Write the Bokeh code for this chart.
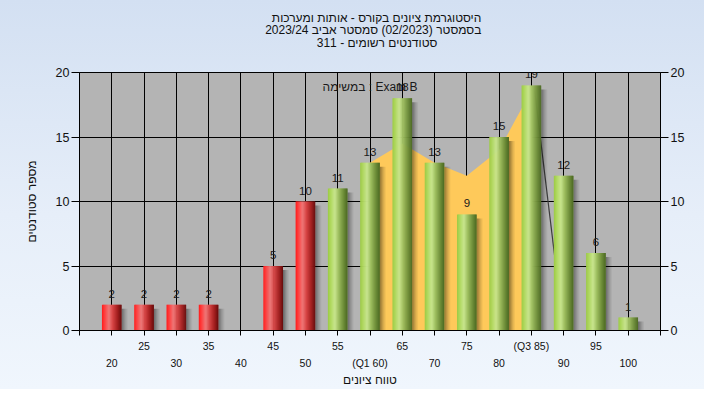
from bokeh.plotting import figure
from bokeh.layouts import column
from bokeh.models import ColumnDataSource, LinearAxis, FixedTicker, Label, LabelSet, Range1d
from bokeh.core.properties import value
from bokeh.embed import file_html
from bokeh.resources import INLINE

# ---------------- data ----------------
grades = [20, 25, 30, 35, 40, 45, 50, 55, 60, 65, 70, 75, 80, 85, 90, 95, 100]
counts = [2, 2, 2, 2, 0, 5, 10, 11, 13, 18, 13, 9, 15, 19, 12, 6, 1]
pass_grade = 55
band_x = [60, 65, 70, 75, 80, 85]
band_y = [13, 14.5, 13, 12, 14, 18.6]
drop_x = [85.5, 90]
drop_y = [18.6, 0]
y_ticks = [0, 5, 10, 15, 20]
upper_ticks = [25, 35, 45, 55, 65, 75, 85, 95]
lower_ticks = [20, 30, 40, 50, 60, 70, 80, 90, 100]
upper_labels = ["25", "35", "45", "55", "65", "75", "(Q3 85)", "95"]
lower_labels = ["20", "30", "40", "50", "(Q1 60)", "70", "80", "90", "100"]
title_lines = [
    "היסטוגרמת ציונים בקורס - אותות ומערכות",
    "בסמסטר  (02/2023)  סמסטר אביב 2023/24",
    "סטודנטים רשומים - 311",
]
exam_text = "במשימה : Exam B"
x_title = "טווח ציונים"
y_title = "מספר סטודנטים"

FONT = "Liberation Sans"
W, H = 704, 389
TITLE_H = 60
X0, X1 = 15, 105
Y0, Y1 = 0, 20
FL, FT, FR, FB = 79, 72, 660, 330          # frame box (pixels)
px = (X1 - X0) / (FR - FL)
py = (Y1 - Y0) / (FB - FT)

# ---------------- title strip ----------------
t = figure(width=W, height=TITLE_H, output_backend="svg", toolbar_location=None,
           x_range=Range1d(0, W), y_range=Range1d(0, TITLE_H),
           x_axis_type=None, y_axis_type=None, min_border=0)
t.background_fill_alpha = 0
t.border_fill_alpha = 0
t.outline_line_color = None
t.grid.visible = False
for k, line in enumerate(title_lines):
    t.add_layout(Label(x=360, y=TITLE_H - 17 - 12.5 * k, text=line, text_align="center",
                       text_baseline="middle", text_font=FONT, text_font_size="12px",
                       text_color="#111111"))

# ---------------- main chart ----------------
p = figure(width=W, height=H - TITLE_H, output_backend="svg", toolbar_location=None,
           x_range=Range1d(X0, X1), y_range=Range1d(Y0, Y1),
           min_border_left=FL, min_border_right=W - FR,
           min_border_top=FT - TITLE_H, min_border_bottom=H - FB)
p.background_fill_color = "#b4b4b4"
p.border_fill_alpha = 0
p.outline_line_color = "black"
p.outline_line_width = 1

p.xgrid.ticker = FixedTicker(ticks=grades)
p.ygrid.ticker = FixedTicker(ticks=y_ticks)
for g in (p.xgrid, p.ygrid):
    g.grid_line_color = "black"
    g.grid_line_width = 1
    g.grid_line_alpha = 1

# IQR band + line
p.varea(x=band_x, y1=[0] * len(band_x), y2=band_y, fill_color="#fec95a", fill_alpha=1)
p.line(x=drop_x, y=drop_y, line_color="#3c3c3c", line_width=1.2)

# bars (cylinder gradient + shadow)
def hex2rgb(h):
    h = h.lstrip("#")
    return tuple(int(h[i:i + 2], 16) for i in (0, 2, 4))

def interp(stops, tt):
    for (t0, c0), (t1, c1) in zip(stops[:-1], stops[1:]):
        if t0 <= tt <= t1:
            a, b = hex2rgb(c0), hex2rgb(c1)
            f = (tt - t0) / (t1 - t0) if t1 > t0 else 0
            return "#%02x%02x%02x" % tuple(int(round(a[k] + (b[k] - a[k]) * f)) for k in range(3))
    return stops[-1][1]

red_stops = [(0, "#ff1c1c"), (0.12, "#ff3a3a"), (0.35, "#ee7878"), (0.55, "#d64444"),
             (0.8, "#a21e1e"), (1, "#650b0b")]
green_stops = [(0, "#9ccb44"), (0.12, "#acd65a"), (0.35, "#c8e58e"), (0.55, "#9dbd5e"),
               (0.8, "#6c8c38"), (1, "#4b6822")]

bar_w = 3.05
n_strips = 20
sl, sr, st, sc = [], [], [], []
hl, hr, ht, ha = [], [], [], []
shadow_alpha = [0.40, 0.32, 0.24, 0.16, 0.10, 0.05]
for g, c in zip(grades, counts):
    if c <= 0:
        continue
    stops = red_stops if g < pass_grade else green_stops
    left = g - bar_w / 2
    sw = bar_w / n_strips
    for j, a in enumerate(shadow_alpha):
        hl.append(g + bar_w / 2 + j * px)
        hr.append(g + bar_w / 2 + (j + 1) * px)
        ht.append(max(c - 4 * py, 0))
        ha.append(a)
    for i in range(n_strips):
        l = left + i * sw
        r = l + sw * (1.6 if i < n_strips - 1 else 1.0)
        sl.append(l)
        sr.append(r)
        st.append(c)
        sc.append(interp(stops, (i + 0.5) / n_strips))

p.quad(left=hl, right=hr, bottom=0, top=ht, fill_color="black", fill_alpha=ha, line_color=None)
p.quad(left=sl, right=sr, bottom=0, top=st, fill_color=sc, line_color=None)

lab_src = ColumnDataSource(dict(
    x=[g for g, c in zip(grades, counts) if c > 0],
    y=[c for c in counts if c > 0],
    t=[str(c) for c in counts if c > 0],
))
p.add_layout(LabelSet(x="x", y="y", text="t", source=lab_src, text_align="center",
                      text_baseline="bottom", y_offset=7, text_font=value(FONT),
                      text_font_size=value("11.5px"), text_color=value("#1a1a1a")))

p.add_layout(Label(x=(X0 + X1) / 2, y=Y1 - 14 * py, text=exam_text, text_align="center",
                   text_baseline="middle", text_font=FONT, text_font_size="12px",
                   text_color="#1a1a1a"))

# axes
edge_ticks = [grades[0] - 5] + grades + [grades[-1] + 5]
xa = p.xaxis[0]
xa.ticker = FixedTicker(ticks=edge_ticks)
ov = {tk: "" for tk in edge_ticks}
ov.update({tk: s for tk, s in zip(upper_ticks, upper_labels)})
xa.major_label_overrides = ov
xa.major_tick_out = 5
xa.major_tick_in = 0
xa.minor_tick_out = 0
xa.major_label_standoff = 4
xa.major_label_text_font = FONT
xa.major_label_text_font_size = "10.5px"
xa.major_label_text_color = "#111111"
xa.axis_line_color = "black"
xa.major_tick_line_color = "black"

xb = LinearAxis(ticker=FixedTicker(ticks=lower_ticks),
                major_label_overrides={tk: s for tk, s in zip(lower_ticks, lower_labels)})
xb.axis_line_color = None
xb.major_tick_line_color = None
xb.major_tick_out = 0
xb.major_tick_in = 0
xb.minor_tick_out = 0
xb.minor_tick_in = 0
xb.major_label_standoff = 2
xb.major_label_text_font = FONT
xb.major_label_text_font_size = "10.5px"
xb.major_label_text_color = "#111111"
xb.axis_label = x_title
xb.axis_label_text_font = FONT
xb.axis_label_text_font_size = "12px"
xb.axis_label_text_font_style = "normal"
xb.axis_label_text_color = "#111111"
xb.axis_label_standoff = 1
p.add_layout(xb, "below")

ya = p.yaxis[0]
yr = LinearAxis()
p.add_layout(yr, "right")
for ax in (ya, yr):
    ax.ticker = FixedTicker(ticks=y_ticks)
    ax.major_tick_out = 8
    ax.major_tick_in = 0
    ax.minor_tick_out = 0
    ax.minor_tick_in = 0
    ax.major_label_standoff = 2
    ax.major_label_text_font = FONT
    ax.major_label_text_font_size = "12.5px"
    ax.major_label_text_color = "#111111"
    ax.axis_line_color = "black"
    ax.major_tick_line_color = "black"
ya.axis_label = y_title
ya.axis_label_text_font = FONT
ya.axis_label_text_font_size = "12px"
ya.axis_label_text_font_style = "normal"
ya.axis_label_text_color = "#111111"
ya.axis_label_standoff = 14

layout = column(t, p, spacing=0,
                styles={"background": "linear-gradient(to bottom, #d3e0f2 0%, #e6eef9 55%, #f0f6fd 100%)"})

open("out.html", "w").write(file_html(layout, INLINE))
